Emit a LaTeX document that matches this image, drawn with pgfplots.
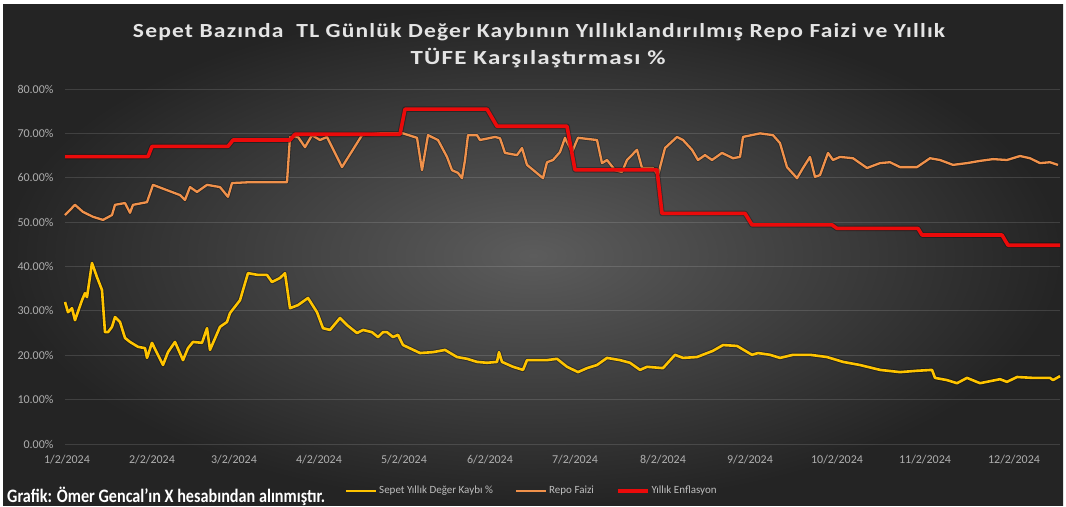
\documentclass[border=0pt]{standalone}
\usepackage{fontspec}
\setmainfont{Carlito}
\newfontfamily\titlefont[LetterSpace=5]{Carlito}
\usepackage{graphicx}
\usepackage{pgfplots}
\pgfplotsset{compat=1.18}
\definecolor{cYel}{RGB}{255,196,0}
\definecolor{cOra}{RGB}{240,145,75}
\definecolor{cRed}{RGB}{235,10,10}
\definecolor{cTick}{RGB}{175,175,175}
\definecolor{cLeg}{RGB}{190,190,190}
\definecolor{cTitle}{RGB}{228,228,228}
\begin{document}
\begin{tikzpicture}[x=1pt,y=1pt]
\fill[white] (0,0) rectangle (1066,506);
\shade[inner color={rgb,255:red,92;green,92;blue,92}, outer color={rgb,255:red,36;green,36;blue,36}] (3,0) rectangle (1063,501);
\node[anchor=base, text=cTitle, font=\fontsize{20}{24}\titlefont\bfseries, inner sep=0] at (539,468)
  {\resizebox{812pt}{\height}{Sepet Bazında\ \ TL Günlük Değer Kaybının Yıllıklandırılmış Repo Faizi ve Yıllık}};
\node[anchor=base, text=cTitle, font=\fontsize{20}{24}\titlefont\bfseries, inner sep=0] at (538,441)
  {\resizebox{255pt}{\height}{TÜFE Karşılaştırması \%}};
\node[anchor=base west, text=white, font=\fontsize{19}{22}\selectfont\bfseries, inner sep=0] at (7,3)
  {\resizebox{318pt}{\height}{Grafik: Ömer Gencal’ın X hesabından alınmıştır.}};
\begin{axis}[
  at={(65pt,62pt)}, anchor=south west,
  scale only axis, width=995pt, height=355pt,
  xmin=65, xmax=1060, ymin=0, ymax=80,
  axis line style={draw=none},
  major tick length=0pt,
  /pgf/number format/assume math mode=true,
  xtick={67,152,234,319,404,490,575,663,750,837,925,1014},
  xticklabels={1/2/2024,2/2/2024,3/2/2024,4/2/2024,5/2/2024,6/2/2024,7/2/2024,8/2/2024,9/2/2024,10/2/2024,11/2/2024,12/2/2024},
  ytick={0,10,20,30,40,50,60,70,80},
  yticklabels={0.00\%,10.00\%,20.00\%,30.00\%,40.00\%,50.00\%,60.00\%,70.00\%,80.00\%},
  ticklabel style={text=cTick, font=\fontsize{12}{14}\selectfont},
  xticklabel style={yshift=-8pt},
  yticklabel style={xshift=-8pt},
  ymajorgrids, xmajorgrids=false,
  major grid style={white, opacity=0.13, line width=0.8pt},
  legend columns=3,
  legend style={at={(0.469,-0.132)}, anchor=center, draw=none, fill=none,
    text=cLeg, font=\fontsize{11}{13}\selectfont,
    /tikz/every even column/.append style={column sep=20pt}},
  legend image code/.code={\draw[#1] (0pt,0pt) -- (30pt,0pt);},
  clip=false,
]
\pgfplotsset{every axis plot/.append style={line join=round}}
% Yellow shadow + line
\addplot[black, opacity=0.35, line width=4.5pt, forget plot] coordinates {
(65,32.0)(68,29.7)(72,30.6)(75,27.9)(82,32.4)(85,34.0)(87,33.1)(92,40.8)(97,37.6)(102,34.7)(105,25.2)(108,25.2)(112,26.4)(115,28.6)(120,27.5)(125,23.9)(130,23.0)(138,21.9)(145,21.6)(147,19.4)(152,22.8)(157,20.5)(163,17.8)(168,20.7)(175,23.0)(183,18.9)(188,21.6)(193,23.0)(202,22.8)(207,26.1)(210,21.2)(220,26.4)(227,27.5)(230,29.5)(240,32.4)(248,38.5)(258,38.1)(267,38.1)(272,36.5)(280,37.4)(285,38.5)(290,30.6)(298,31.3)(308,32.9)(317,29.7)(323,26.1)(330,25.7)(340,28.4)(347,26.8)(357,25.0)(363,25.7)(372,25.2)(378,24.1)(383,25.2)(387,25.2)(393,24.1)(398,24.6)(403,22.3)(420,20.5)(433,20.7)(445,21.2)(457,19.6)(467,19.2)(477,18.5)(487,18.3)(497,18.5)(499,20.7)(502,18.5)(513,17.4)(523,16.7)(527,18.9)(547,18.9)(557,19.2)(567,17.4)(578,16.2)(587,17.1)(597,17.8)(607,19.4)(620,18.9)(630,18.3)(640,16.7)(647,17.4)(663,17.1)(675,20.1)(683,19.4)(697,19.6)(713,21.0)(723,22.3)(737,22.1)(752,20.1)(758,20.5)(770,20.1)(780,19.4)(793,20.1)(810,20.1)(827,19.6)(843,18.5)(860,17.8)(880,16.7)(900,16.2)(917,16.5)(932,16.7)(935,14.9)(947,14.4)(957,13.7)(967,14.9)(980,13.7)(1000,14.6)(1007,14.0)(1017,15.1)(1033,14.9)(1050,14.9)(1053,14.4)(1060,15.3)};
\addplot[cYel, line width=2.6pt] coordinates {
(65,32.0)(68,29.7)(72,30.6)(75,27.9)(82,32.4)(85,34.0)(87,33.1)(92,40.8)(97,37.6)(102,34.7)(105,25.2)(108,25.2)(112,26.4)(115,28.6)(120,27.5)(125,23.9)(130,23.0)(138,21.9)(145,21.6)(147,19.4)(152,22.8)(157,20.5)(163,17.8)(168,20.7)(175,23.0)(183,18.9)(188,21.6)(193,23.0)(202,22.8)(207,26.1)(210,21.2)(220,26.4)(227,27.5)(230,29.5)(240,32.4)(248,38.5)(258,38.1)(267,38.1)(272,36.5)(280,37.4)(285,38.5)(290,30.6)(298,31.3)(308,32.9)(317,29.7)(323,26.1)(330,25.7)(340,28.4)(347,26.8)(357,25.0)(363,25.7)(372,25.2)(378,24.1)(383,25.2)(387,25.2)(393,24.1)(398,24.6)(403,22.3)(420,20.5)(433,20.7)(445,21.2)(457,19.6)(467,19.2)(477,18.5)(487,18.3)(497,18.5)(499,20.7)(502,18.5)(513,17.4)(523,16.7)(527,18.9)(547,18.9)(557,19.2)(567,17.4)(578,16.2)(587,17.1)(597,17.8)(607,19.4)(620,18.9)(630,18.3)(640,16.7)(647,17.4)(663,17.1)(675,20.1)(683,19.4)(697,19.6)(713,21.0)(723,22.3)(737,22.1)(752,20.1)(758,20.5)(770,20.1)(780,19.4)(793,20.1)(810,20.1)(827,19.6)(843,18.5)(860,17.8)(880,16.7)(900,16.2)(917,16.5)(932,16.7)(935,14.9)(947,14.4)(957,13.7)(967,14.9)(980,13.7)(1000,14.6)(1007,14.0)(1017,15.1)(1033,14.9)(1050,14.9)(1053,14.4)(1060,15.3)};
\addlegendentry{Sepet Yıllık Değer Kaybı \%}
% Orange
\addplot[black, opacity=0.3, line width=4pt, forget plot] coordinates {
(65,51.6)(75,53.9)(83,52.3)(93,51.2)(103,50.5)(112,51.6)(115,53.9)(125,54.3)(130,52.1)(133,53.9)(147,54.5)(153,58.4)(167,57.2)(180,56.1)(185,55.0)(190,57.9)(197,56.8)(207,58.4)(220,57.9)(228,55.7)(232,58.8)(250,59.0)(287,59.0)(290,69.2)(298,69.2)(305,66.9)(312,69.6)(320,68.5)(327,69.2)(342,62.4)(362,69.6)(380,70.0)(403,70.0)(417,69.0)(422,61.7)(428,69.6)(438,68.5)(447,64.7)(452,61.7)(458,61.1)(462,59.9)(465,64.0)(468,69.6)(477,69.6)(480,68.5)(495,69.2)(500,68.9)(505,65.6)(517,65.1)(522,66.7)(527,62.9)(543,59.9)(547,63.5)(553,64.0)(560,65.8)(565,69.0)(572,65.8)(578,69.0)(597,68.5)(602,63.3)(607,64.0)(615,61.7)(622,61.3)(627,64.0)(637,66.3)(642,62.2)(653,62.2)(658,60.6)(665,66.7)(677,69.2)(683,68.5)(692,66.3)(698,64.0)(705,65.1)(712,64.0)(722,65.6)(733,64.4)(740,64.7)(743,69.2)(760,70.0)(773,69.6)(780,67.8)(787,62.4)(797,59.9)(803,62.2)(810,64.7)(815,60.2)(820,60.6)(828,65.6)(833,64.0)(840,64.7)(853,64.4)(867,62.2)(880,63.3)(890,63.5)(900,62.4)(917,62.4)(930,64.4)(940,64.0)(953,62.9)(967,63.3)(980,63.8)(993,64.2)(1007,64.0)(1020,64.9)(1030,64.4)(1040,63.3)(1050,63.5)(1058,62.9)};
\addplot[cOra, line width=2.3pt] coordinates {
(65,51.6)(75,53.9)(83,52.3)(93,51.2)(103,50.5)(112,51.6)(115,53.9)(125,54.3)(130,52.1)(133,53.9)(147,54.5)(153,58.4)(167,57.2)(180,56.1)(185,55.0)(190,57.9)(197,56.8)(207,58.4)(220,57.9)(228,55.7)(232,58.8)(250,59.0)(287,59.0)(290,69.2)(298,69.2)(305,66.9)(312,69.6)(320,68.5)(327,69.2)(342,62.4)(362,69.6)(380,70.0)(403,70.0)(417,69.0)(422,61.7)(428,69.6)(438,68.5)(447,64.7)(452,61.7)(458,61.1)(462,59.9)(465,64.0)(468,69.6)(477,69.6)(480,68.5)(495,69.2)(500,68.9)(505,65.6)(517,65.1)(522,66.7)(527,62.9)(543,59.9)(547,63.5)(553,64.0)(560,65.8)(565,69.0)(572,65.8)(578,69.0)(597,68.5)(602,63.3)(607,64.0)(615,61.7)(622,61.3)(627,64.0)(637,66.3)(642,62.2)(653,62.2)(658,60.6)(665,66.7)(677,69.2)(683,68.5)(692,66.3)(698,64.0)(705,65.1)(712,64.0)(722,65.6)(733,64.4)(740,64.7)(743,69.2)(760,70.0)(773,69.6)(780,67.8)(787,62.4)(797,59.9)(803,62.2)(810,64.7)(815,60.2)(820,60.6)(828,65.6)(833,64.0)(840,64.7)(853,64.4)(867,62.2)(880,63.3)(890,63.5)(900,62.4)(917,62.4)(930,64.4)(940,64.0)(953,62.9)(967,63.3)(980,63.8)(993,64.2)(1007,64.0)(1020,64.9)(1030,64.4)(1040,63.3)(1050,63.5)(1058,62.9)};
\addlegendentry{Repo Faizi}
% Red
\addplot[black, opacity=0.3, line width=5.5pt, forget plot] coordinates {
(65,64.77)(148,64.77)(152,67.07)(228,67.07)(233,68.5)(290,68.5)(295,69.8)(400,69.8)(405,75.45)(487,75.45)(497,71.6)(567,71.6)(575,61.78)(657,61.78)(662,51.97)(745,51.97)(752,49.38)(832,49.38)(837,48.58)(918,48.58)(922,47.09)(1002,47.09)(1008,44.8)(1060,44.8)};
\addplot[cRed, line width=3.6pt] coordinates {
(65,64.77)(148,64.77)(152,67.07)(228,67.07)(233,68.5)(290,68.5)(295,69.8)(400,69.8)(405,75.45)(487,75.45)(497,71.6)(567,71.6)(575,61.78)(657,61.78)(662,51.97)(745,51.97)(752,49.38)(832,49.38)(837,48.58)(918,48.58)(922,47.09)(1002,47.09)(1008,44.8)(1060,44.8)};
\addlegendentry{Yıllık Enflasyon}
\end{axis}
\end{tikzpicture}
\end{document}
